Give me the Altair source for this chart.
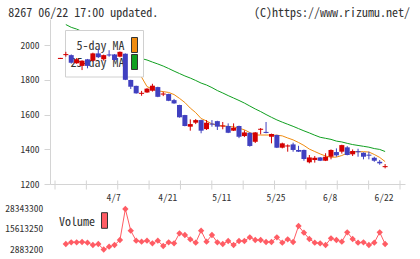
import altair as alt
import pandas as pd

# ---- daily prices, 2020-03-23 .. 2020-06-22 (index 0..60) ----
opens = [1920, 1942, 1942, 1895, 1880, 1918, 1910, 1952, 1918, 1946,
         1946, 1933, 1950, 1799, 1765, 1719, 1727, 1737, 1758, 1715,
         1718, 1683, 1655, 1597, 1530, 1553, 1568, 1516, 1548, 1562,
         1531, 1534, 1507, 1534, 1476, 1495, 1443, 1512, 1500, 1472,
         1482, 1409, 1416, 1428, 1396, 1396, 1325, 1338, 1353, 1334,
         1357, 1384, 1386, 1411, 1371, 1389, 1380, 1369, 1351, 1328,
         1297]
closes = [1926, 1948, 1898, 1918, 1910, 1880, 1952, 1930, 1942, 1940,
          1914, 1961, 1800, 1760, 1722, 1725, 1749, 1766, 1702, 1721,
          1679, 1664, 1584, 1534, 1545, 1568, 1507, 1553, 1542, 1530,
          1537, 1495, 1524, 1472, 1497, 1419, 1497, 1518, 1494, 1488,
          1409, 1434, 1422, 1396, 1386, 1344, 1353, 1351, 1334, 1357,
          1396, 1365, 1424, 1367, 1390, 1383, 1357, 1363, 1334, 1319,
          1303]
highs = [1926, 1961, 1946, 1925, 1912, 1920, 1956, 1978, 1945, 1970,
         1948, 1963, 1952, 1800, 1766, 1736, 1752, 1777, 1760, 1731,
         1720, 1690, 1656, 1598, 1572, 1574, 1570, 1568, 1568, 1564,
         1557, 1549, 1549, 1536, 1509, 1497, 1499, 1522, 1557, 1490,
         1484, 1438, 1428, 1438, 1420, 1398, 1367, 1361, 1355, 1377,
         1399, 1405, 1426, 1418, 1399, 1403, 1382, 1386, 1357, 1338,
         1315]
lows = [1920, 1933, 1893, 1892, 1856, 1866, 1906, 1925, 1910, 1933,
        1906, 1930, 1798, 1747, 1720, 1708, 1725, 1732, 1700, 1706,
        1677, 1662, 1582, 1532, 1507, 1545, 1492, 1511, 1530, 1511,
        1515, 1493, 1505, 1464, 1470, 1415, 1436, 1486, 1492, 1434,
        1407, 1405, 1386, 1386, 1384, 1334, 1319, 1323, 1332, 1332,
        1342, 1357, 1375, 1365, 1361, 1357, 1342, 1342, 1328, 1311,
        1290]

# moving averages and volume start at index 1
ma5 = [1950, 1941, 1930, 1916, 1905, 1910, 1916, 1925, 1936, 1935,
       1941, 1917, 1880, 1840, 1815, 1761, 1746, 1736, 1732, 1727,
       1715, 1693, 1669, 1637, 1611, 1577, 1563, 1546, 1538, 1534,
       1532, 1529, 1521, 1512, 1496, 1482, 1482, 1482, 1482, 1481,
       1477, 1465, 1454, 1439, 1422, 1401, 1387, 1373, 1361, 1354,
       1355, 1364, 1378, 1384, 1386, 1386, 1384, 1370, 1353, 1329]
ma25 = [2118, 2102, 2092, 2078, 2063, 2049, 2034, 2020, 2006, 1991,
        1977, 1963, 1948, 1934, 1922, 1914, 1902, 1891, 1879, 1865,
        1850, 1836, 1822, 1810, 1796, 1781, 1770, 1755, 1738, 1724,
        1709, 1695, 1681, 1666, 1649, 1632, 1617, 1600, 1584, 1569,
        1556, 1544, 1532, 1519, 1506, 1494, 1481, 1469, 1463, 1457,
        1447, 1442, 1434, 1427, 1422, 1417, 1412, 1404, 1399, 1387]
volume = [6340000, 7410000, 7410000, 7600000, 7160000, 5710000, 6340000, 2883200, 4640000, 5710000,
          8850000, 28343300, 14700000, 8410000, 7790000, 8410000, 6780000, 8410000, 5080000, 7410000,
          6780000, 13070000, 12000000, 9290000, 7160000, 14700000, 7790000, 12000000, 7410000, 6340000,
          8230000, 5710000, 8230000, 8230000, 10550000, 8850000, 8850000, 7600000, 7600000, 10550000,
          7160000, 9290000, 7600000, 17660000, 13440000, 9480000, 7160000, 6780000, 5710000, 9920000,
          8850000, 7790000, 13700000, 9480000, 7160000, 7410000, 5710000, 7160000, 13700000, 6340000]

date_pos = [10, 20, 30, 40, 50, 60]
date_labels = ["4/7", "4/21", "5/11", "5/25", "6/8", "6/22"]
price_ticks = [1200, 1400, 1600, 1800, 2000]
volume_ticks = [2883200, 15613250, 28343300]

FONT = "Noto Sans Mono CJK JP, DejaVu Sans Mono, monospace"
AXIS_GREY = "#d4d4d4"
TEXT = "#333333"
UP, DOWN = "#d40000", "#4040c0"
MA5_C, MA25_C = "#f08c10", "#10a020"
VOL_C = "#ff5c64"

n = len(opens)
candles = pd.DataFrame({
    "i": list(range(n)), "open": opens, "close": closes, "high": highs, "low": lows,
    "dir": ["up" if c >= o else "down" for o, c in zip(opens, closes)],
})
ma_df = pd.DataFrame({"i": list(range(1, n)), "ma5": ma5, "ma25": ma25, "vol": volume})
tick_df = pd.DataFrame({"t": [-1 + k * 63.75 / 11 for k in range(12)]})
dates_df = pd.DataFrame({"i": date_pos, "label": date_labels})
vticks_df = pd.DataFrame({"v": volume_ticks, "label": [str(v) for v in volume_ticks]})
one = pd.DataFrame({"k": [0]})

xs = alt.Scale(domain=[-1, 62.75], nice=False, zero=False)
ys = alt.Scale(domain=[1200, 2150], nice=False, zero=False)
vs = alt.Scale(domain=[2883200, 28343300], range=[230.5, 190], nice=False, zero=False)
xaxis = alt.Axis(labels=False, ticks=False, grid=False, title=None,
                 domainColor=AXIS_GREY, domainWidth=1)
yaxis = alt.Axis(values=price_ticks, format="d", grid=False, title=None,
                 tickSize=6, tickColor=AXIS_GREY, domainColor=AXIS_GREY,
                 labelFont=FONT, labelFontSize=9.5, labelColor=TEXT, labelPadding=5)
X = alt.X("i:Q", scale=xs, axis=xaxis)
colour = alt.Color("dir:N", scale=alt.Scale(domain=["up", "down"], range=[UP, DOWN]), legend=None)

tick_rules = alt.Chart(tick_df).mark_rule(color=AXIS_GREY).encode(
    x=alt.X("t:Q", scale=xs, axis=xaxis), y=alt.value(161.5), y2=alt.value(170.5))

ma5_line = alt.Chart(ma_df).mark_line(color=MA5_C, strokeWidth=1).encode(
    x=X, y=alt.Y("ma5:Q", scale=ys, axis=yaxis))
ma25_line = alt.Chart(ma_df).mark_line(color=MA25_C, strokeWidth=1).encode(
    x=X, y=alt.Y("ma25:Q", scale=ys, axis=yaxis))

# legend panel for the moving averages
legend_box = alt.Chart(one).mark_rect(fill="white", stroke="#d0d0d0", strokeWidth=1).encode(
    x=alt.value(15.5), x2=alt.value(93.5), y=alt.value(11.5), y2=alt.value(58))
sw5 = alt.Chart(one).mark_rect(fill=MA5_C, stroke="#333333", strokeWidth=1).encode(
    x=alt.value(81.5), x2=alt.value(87.5), y=alt.value(18.5), y2=alt.value(33.5))
sw25 = alt.Chart(one).mark_rect(fill=MA25_C, stroke="#333333", strokeWidth=1).encode(
    x=alt.value(81.5), x2=alt.value(87.5), y=alt.value(35.5), y2=alt.value(50.5))
lg5 = alt.Chart(one).mark_text(align="right", baseline="middle", font=FONT, fontSize=12,
                               color=TEXT, text="5-day MA").encode(x=alt.value(74.5), y=alt.value(27.2))
lg25 = alt.Chart(one).mark_text(align="right", baseline="middle", font=FONT, fontSize=12,
                                color=TEXT, text="25-day MA").encode(x=alt.value(74.5), y=alt.value(43.8))

wicks = alt.Chart(candles).mark_rule(strokeWidth=1).encode(
    x=X, y=alt.Y("low:Q", scale=ys, axis=yaxis), y2="high:Q", color=colour)
bodies = alt.Chart(candles).mark_bar(size=5).encode(
    x=X, y=alt.Y("open:Q", scale=ys, axis=yaxis), y2="close:Q", color=colour)

date_text = alt.Chart(dates_df).mark_text(baseline="middle", font=FONT, fontSize=9.5,
                                          color=TEXT, dx=-1).encode(
    x=X, y=alt.value(178.5), text="label:N")

title_l = alt.Chart(one).mark_text(align="left", baseline="middle", font=FONT, fontSize=12,
                                   color=TEXT, text="8267 06/22 17:00 updated.").encode(
    x=alt.value(-41.7), y=alt.value(-6.2))
title_r = alt.Chart(one).mark_text(align="right", baseline="middle", font=FONT, fontSize=12,
                                   color=TEXT, text="(C)https://www.rizumu.net/").encode(
    x=alt.value(360), y=alt.value(-6.2))

price = alt.layer(tick_rules, ma5_line, ma25_line, legend_box, sw5, sw25, lg5, lg25,
                  wicks, bodies, date_text, title_l, title_r)

# volume panel below the price panel
VY = alt.Y("vol:Q", scale=vs, axis=None)
vol_line = alt.Chart(ma_df).mark_line(color=VOL_C, strokeWidth=1).encode(x=X, y=VY)
vol_pts = alt.Chart(ma_df).mark_point(shape="diamond", filled=True, size=40, color=VOL_C,
                                      opacity=1).encode(x=X, y=VY)
vol_labels = alt.Chart(vticks_df).mark_text(align="right", baseline="middle", font=FONT,
                                            fontSize=9.5, color=TEXT).encode(
    x=alt.value(-6.7), y=alt.Y("v:Q", scale=vs, axis=None), text="label:N")
vol_lg = alt.Chart(one).mark_text(align="left", baseline="middle", font=FONT, fontSize=12,
                                  color=TEXT, text="Volume").encode(x=alt.value(9), y=alt.value(203))
vol_sw = alt.Chart(one).mark_rect(fill=VOL_C, stroke="#333333", strokeWidth=1).encode(
    x=alt.value(51.5), x2=alt.value(57.5), y=alt.value(193.7), y2=alt.value(209.3))

vol = alt.layer(vol_line, vol_pts, vol_labels, vol_lg, vol_sw)

chart = alt.layer(price, vol).resolve_scale(y="independent").properties(
    width=355, height=165,
    autosize=alt.AutoSizeParams(type="none"),
    padding={"left": 50, "top": 19, "right": 15, "bottom": 75},
    background="white",
).configure_view(stroke=None)

chart.save("out.html", embed_options={"renderer": "svg", "actions": False})
